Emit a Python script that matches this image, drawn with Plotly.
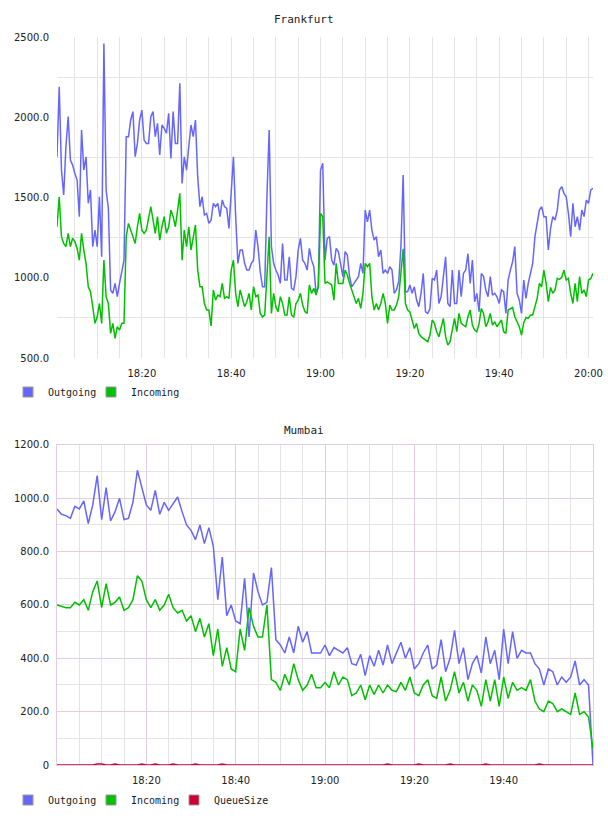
import plotly.graph_objects as go
import pandas as pd

# ---------------- data ----------------
series_names = ["Outgoing", "Incoming", "QueueSize"]
series_colors = ["#6666ff", "#00c000", "#cc0033"]

# Frankfurt: samples every 30 s starting 18:01
fra_start = "2024-01-01 18:01:00"
fra_out = [
    1754, 2190, 1671, 1516, 1817, 2004, 1734, 1702, 1650, 1609, 1380, 1920, 1671, 1754, 1464, 1547,
    1194, 1297, 1194, 1505, 1131, 2460, 1547, 1432, 924, 903, 965, 882, 965, 1048, 1110, 1879,
    1879, 1983, 2035, 1754, 1837, 1983, 2045, 1858, 1837, 1837, 2004, 2035, 1879, 1962, 1765, 1952,
    1931, 1900, 2024, 1744, 2035, 1837, 1837, 2211, 1588, 1754, 1671, 1817, 1952,
    1879, 1983, 1630, 1443, 1505, 1391, 1401, 1339, 1360, 1464, 1443, 1464, 1381, 1485, 1443, 1432,
    1308, 1505, 1754, 1381, 1090, 1173, 1173, 1090, 1048, 1048, 1090, 1110, 1297, 1194, 1038, 944,
    944, 1505, 1920, 1194, 1090, 1048, 1017, 965, 1214, 986, 986, 1131, 934, 924, 1007, 1173,
    1246, 1110, 1090, 1048, 1183, 1110, 1069, 903, 944, 1671, 1713, 1110,
    1246, 1256, 1110, 1079, 1183, 1163, 1090, 1007, 1163, 1142, 1007, 944, 965, 986, 1007, 1090,
    1027, 1422, 1349, 1422, 1297, 1235, 1256, 1131, 1173, 1027, 1048, 1027, 1069, 1048, 903, 924,
    975, 1194, 1640, 913, 913, 955, 903, 944, 861, 820, 903, 1027, 788, 778, 809, 996,
    986, 1048, 840, 882, 1007, 1131, 840, 820, 1048, 840, 840, 1048, 882,
    1027, 1048, 1150, 965, 1110, 851, 903, 788, 1027, 1007, 924, 882, 1007, 892, 903, 882,
    840, 924, 913, 778, 986, 1048, 1100, 1194, 903, 861, 778, 986, 872, 965, 1038, 1090,
    1256, 1339, 1422, 1443, 1381, 1381, 1173, 1308, 1381, 1360, 1422, 1547, 1568, 1526, 1505, 1401,
    1256, 1464, 1318, 1381, 1297, 1422, 1381, 1484, 1464, 1547, 1557,
]
fra_in = [
    1318, 1505, 1256, 1214, 1194, 1277, 1194, 1246, 1225, 1183, 1110, 1277, 1173, 1090, 944, 913,
    820, 716, 757, 840, 716, 1110, 882, 840, 654, 716, 623, 695, 674, 716, 716, 1256,
    1339, 1297, 1256, 1214, 1318, 1401, 1297, 1277, 1297, 1360, 1443, 1360, 1277, 1381, 1235, 1318,
    1381, 1277, 1318, 1422, 1381, 1318, 1443, 1526, 1110, 1297, 1194, 1318, 1173,
    1246, 1329, 1048, 944, 944, 840, 799, 799, 700, 924, 861, 892, 882, 965, 872, 882,
    872, 1048, 1110, 903, 820, 924, 872, 820, 851, 903, 799, 944, 882, 892, 778, 757,
    768, 1028, 1256, 778, 903, 820, 789, 882, 840, 768, 768, 882, 768, 757, 840, 861,
    903, 830, 789, 778, 955, 903, 934, 892, 944, 1401, 1381, 965,
    975, 965, 955, 861, 1090, 965, 965, 965, 1048, 1017, 965, 924, 882, 840, 872, 809,
    903, 1090, 1069, 1090, 882, 799, 840, 799, 840, 903, 840, 716, 830, 799, 799, 830,
    882, 1048, 1180, 840, 799, 788, 737, 684, 716, 654, 633, 622, 612, 602, 643, 737,
    716, 664, 633, 695, 747, 633, 581, 602, 684, 747, 664, 778, 716,
    705, 695, 757, 799, 705, 674, 664, 716, 809, 778, 695, 726, 778, 705, 726, 695,
    716, 737, 664, 654, 799, 809, 815, 757, 720, 695, 643, 720, 753, 747, 768, 768,
    820, 872, 965, 944, 1048, 965, 851, 940, 903, 924, 996, 990, 1003, 1048, 986, 996,
    903, 840, 965, 851, 1007, 903, 924, 882, 986, 996, 1028,
]

# Mumbai: samples every minute starting 18:00
mum_start = "2024-01-01 18:00:00"
mum_out = [
    960, 940, 935, 925, 970, 960, 990, 905, 975, 1085,
    920, 1040, 915, 950, 1000, 920, 925, 985, 1105, 1040,
    975, 955, 1030, 940, 985, 955, 980, 1005, 950, 900,
    880, 845, 900, 830, 890, 820, 620, 780, 560, 600,
    540, 530, 700, 480, 720, 650, 600, 610, 740, 470,
    450, 420, 480, 420, 520, 460, 500, 420, 420, 420,
    450, 410, 440, 430, 420, 440, 380, 375, 415, 335,
    410, 370, 430, 375, 450, 380, 420, 460, 400, 440,
    360, 380, 420, 450, 360, 375, 470, 350, 400, 505,
    380, 440, 320, 380, 410, 345, 480, 380, 430, 320,
    510, 380, 500, 400, 430, 420, 420, 380, 360, 300,
    360, 350, 300, 330, 310, 330, 390, 300, 320, 300,
    0,
]
mum_in = [
    600, 595, 590, 590, 610, 600, 620, 580, 650, 690,
    590, 680, 600, 610, 630, 580, 590, 620, 710, 690,
    620, 590, 620, 580, 600, 640, 590, 570, 580, 540,
    560, 500, 550, 480, 530, 410, 510, 370, 440, 360,
    350, 510, 430, 590, 520, 480, 480, 600, 320, 310,
    280, 340, 300, 380, 320, 280, 300, 340, 290, 290,
    310, 290, 350, 300, 330, 320, 260, 270, 300, 245,
    300, 265, 300, 270, 300, 280, 275, 310, 280, 330,
    270, 260, 300, 320, 260, 250, 330, 240, 280, 350,
    270, 310, 240, 300, 280, 220, 320, 240, 320, 220,
    330, 250, 310, 280, 290, 280, 320, 240, 210, 200,
    240, 230, 200, 210, 200, 190, 270, 190, 200, 180,
    60,
]
mum_queue = [
    0, 0, 0, 0, 0, 0, 0, 0, 0, 4,
    4, 0, 0, 4, 0, 0, 0, 0, 0, 4,
    0, 0, 4, 0, 0, 0, 4, 0, 0, 0,
    0, 4, 0, 0, 0, 0, 0, 4, 0, 0,
    0, 0, 0, 0, 0, 0, 0, 0, 0, 0,
    0, 0, 0, 0, 0, 0, 0, 0, 0, 0,
    0, 0, 0, 0, 0, 0, 0, 0, 0, 0,
    0, 0, 0, 0, 4, 0, 0, 0, 0, 0,
    0, 4, 0, 0, 0, 0, 0, 0, 4, 0,
    0, 0, 0, 0, 0, 0, 4, 0, 0, 0,
    0, 0, 0, 0, 0, 0, 0, 0, 4, 0,
    0, 0, 0, 0, 0, 0, 0, 0, 0, 0,
    0,
]

fra_yticks = [500, 1000, 1500, 2000, 2500]
fra_ygrid = [750, 1250, 1750, 2250]
mum_yticks = [0, 200, 400, 600, 800, 1000, 1200]
mum_ygrid = [100, 300, 500, 700, 900, 1100]

# ---------------- figure ----------------
fra_time = pd.date_range(fra_start, periods=len(fra_out), freq="30s")
mum_time = pd.date_range(mum_start, periods=len(mum_out), freq="60s")

GRID = "#e4e4e4"
PURPLE = "#e2cce2"
TXT = "#222222"
MONO = "DejaVu Sans Mono"
SANS = "DejaVu Sans"

fig = go.Figure()

for vals, name, col in [(fra_out, series_names[0], series_colors[0]),
                        (fra_in, series_names[1], series_colors[1])]:
    fig.add_trace(go.Scatter(x=fra_time, y=vals, mode="lines", name=name,
                             line=dict(color=col, width=1.5), xaxis="x", yaxis="y",
                             showlegend=False, hoverinfo="x+y"))
for vals, name, col in [(mum_out, series_names[0], series_colors[0]),
                        (mum_in, series_names[1], series_colors[1]),
                        (mum_queue, series_names[2], series_colors[2])]:
    fig.add_trace(go.Scatter(x=mum_time, y=vals, mode="lines", name=name,
                             line=dict(color=col, width=1.5), xaxis="x2", yaxis="y2",
                             showlegend=False, hoverinfo="x+y"))


def swatch(name, col, ax, lg, visible=True):
    return go.Scatter(x=[None], y=[None], mode="markers", name=name,
                      marker=dict(symbol="square", size=10,
                                  color=col if visible else "rgba(0,0,0,0)",
                                  line=dict(color="#999999" if visible else "rgba(0,0,0,0)",
                                            width=1 if visible else 0)),
                      xaxis=ax[0], yaxis=ax[1], legend=lg, hoverinfo="skip")


for i, (name, col) in enumerate(zip(series_names, series_colors)):
    if i < 2:
        fig.add_trace(swatch(name, col, ("x", "y"), "legend"))
    fig.add_trace(swatch(name, col, ("x2", "y2"), "legend2"))
# spacer entries so the last label is not clipped
fig.add_trace(swatch(" ", "white", ("x", "y"), "legend", visible=False))
fig.add_trace(swatch(" ", "white", ("x2", "y2"), "legend2", visible=False))

tickfont = dict(family=SANS, size=10, color=TXT)

fig.update_layout(
    width=608, height=816,
    margin=dict(l=57, r=15, t=37, b=51, autoexpand=False),
    paper_bgcolor="white", plot_bgcolor="white",
    showlegend=True,
    xaxis=dict(domain=[0, 1], anchor="y", automargin=False,
               range=[fra_time[0], fra_time[-1]],
               tick0="2024-01-01 18:00", dtick=20 * 60 * 1000, tickformat="%H:%M",
               showgrid=True, gridcolor=GRID, gridwidth=1,
               minor=dict(tick0="2024-01-01 18:00", dtick=5 * 60 * 1000,
                          showgrid=True, gridcolor=GRID, gridwidth=1),
               ticks="outside", ticklen=6, tickcolor="rgba(0,0,0,0)",
               showline=False, zeroline=False, tickfont=tickfont),
    yaxis=dict(domain=[0.559, 1.0], anchor="x", automargin=False,
               range=[500, 2500], tickmode="array", tickvals=fra_yticks,
               ticktext=[f"{v:.1f}" for v in fra_yticks],
               showgrid=False,
               minor=dict(tickmode="array", tickvals=fra_ygrid, showgrid=True,
                          gridcolor=GRID, gridwidth=1, ticks=""),
               ticks="outside", ticklen=5, tickcolor="rgba(0,0,0,0)",
               showline=False, zeroline=False, tickfont=tickfont),
    xaxis2=dict(domain=[0, 1], anchor="y2", automargin=False,
                range=[mum_time[0], mum_time[-1]],
                tickmode="array",
                tickvals=[t for t in mum_time if t.minute % 20 == 0 and t != mum_time[0] and t != mum_time[-1]],
                ticktext=[t.strftime("%H:%M") for t in mum_time
                          if t.minute % 20 == 0 and t != mum_time[0] and t != mum_time[-1]],
                showgrid=True, gridcolor=PURPLE, gridwidth=1,
                minor=dict(tick0="2024-01-01 18:00", dtick=5 * 60 * 1000,
                           showgrid=True, gridcolor=GRID, gridwidth=1),
                ticks="outside", ticklen=6, tickcolor="rgba(0,0,0,0)",
                showline=True, linecolor=PURPLE, mirror=True,
                zeroline=False, tickfont=tickfont),
    yaxis2=dict(domain=[0, 0.4396], anchor="x2", automargin=False,
                range=[0, 1200], tickmode="array", tickvals=mum_yticks,
                ticktext=["0" if v == 0 else f"{v:.1f}" for v in mum_yticks],
                showgrid=True, gridcolor=PURPLE, gridwidth=1,
                minor=dict(tickmode="array", tickvals=mum_ygrid, showgrid=True,
                           gridcolor=GRID, gridwidth=1, ticks=""),
                ticks="outside", ticklen=5, tickcolor="rgba(0,0,0,0)",
                showline=True, linecolor=PURPLE, mirror=True,
                zeroline=False, tickfont=tickfont),
    legend=dict(orientation="h", xref="container", yref="container",
                x=8 / 608, xanchor="left", y=1 - 392 / 816, yanchor="middle",
                font=dict(family=MONO, size=10, color=TXT),
                entrywidth=38, entrywidthmode="pixels", bgcolor="rgba(0,0,0,0)",
                itemclick=False, itemdoubleclick=False),
    legend2=dict(orientation="h", xref="container", yref="container",
                 x=8 / 608, xanchor="left", y=1 - 800 / 816, yanchor="middle",
                 font=dict(family=MONO, size=10, color=TXT),
                 entrywidth=38, entrywidthmode="pixels", bgcolor="rgba(0,0,0,0)",
                 itemclick=False, itemdoubleclick=False),
    annotations=[
        dict(text="Frankfurt", xref="paper", yref="paper", x=0.461, y=1.0234,
             xanchor="center", yanchor="middle", showarrow=False,
             font=dict(family=MONO, size=11, color=TXT)),
        dict(text="Mumbai", xref="paper", yref="paper", x=0.461, y=0.460,
             xanchor="center", yanchor="middle", showarrow=False,
             font=dict(family=MONO, size=11, color=TXT)),
    ],
)

fig.write_html("out.html")
